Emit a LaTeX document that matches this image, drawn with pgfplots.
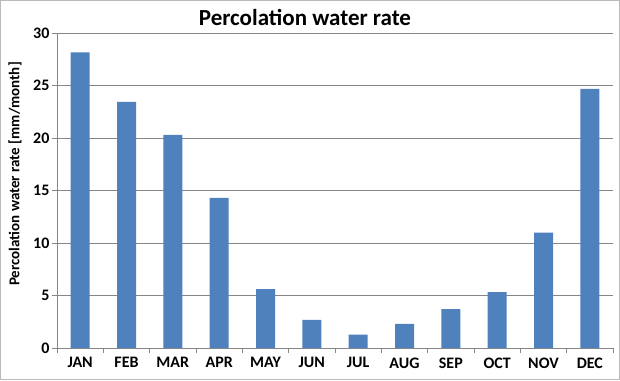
\documentclass[border=0pt]{standalone}
\usepackage{fontspec}
\setmainfont{Carlito}
\usepackage{pgfplots}
\pgfplotsset{compat=1.18}
\definecolor{barblue}{HTML}{4F81BD}
\definecolor{gridgray}{HTML}{868686}
\begin{document}
\begin{tikzpicture}
\useasboundingbox (0,0) rectangle (620pt,380pt);
\fill[white] (0,0) rectangle (620pt,380pt);
\draw[color=black!27, line width=1.2pt] (0.6pt,0.6pt) rectangle (619.4pt,379.4pt);
\begin{axis}[
  at={(57pt,32pt)}, anchor=south west,
  scale only axis, width=556pt, height=315pt,
  xmin=-0.5, xmax=11.5, ymin=0, ymax=30,
  axis x line*=bottom, axis y line*=left,
  axis line style={gridgray, -, line width=0.8pt},
  ymajorgrids, grid style={gridgray, line width=0.8pt},
  ytick={0,5,...,30},
  xtick={0,...,11},
  xticklabels={JAN,FEB,MAR,APR,MAY,JUN,JUL,AUG,SEP,OCT,NOV,DEC},
  minor xtick={-0.5,0.5,...,11.5},
  tick align=outside,
  major tick length=5pt, minor tick length=5pt,
  x tick style={draw=none},
  minor x tick style={draw=gridgray, line width=0.8pt},
  y tick style={gridgray, line width=0.8pt},
  ticklabel style={font=\bfseries\fontsize{16}{18}\selectfont},
  /pgf/number format/assume math mode=true,
  xticklabel style={yshift=-1pt},
  yticklabel style={xshift=1pt},
  ybar, bar width=19pt,
]
\addplot[fill=barblue, draw=none] coordinates {
(0,28.16) (1,23.45) (2,20.3) (3,14.3) (4,5.6) (5,2.68)
(6,1.27) (7,2.3) (8,3.71) (9,5.33) (10,11.0) (11,24.67)};
\end{axis}
\node[font=\bfseries\fontsize{23}{26}\selectfont] at (305pt,362pt) {Percolation water rate};
\node[rotate=90, font=\bfseries\fontsize{15}{17}\selectfont] at (15pt,206pt) {Percolation water rate [mm/month]};
\end{tikzpicture}
\end{document}
